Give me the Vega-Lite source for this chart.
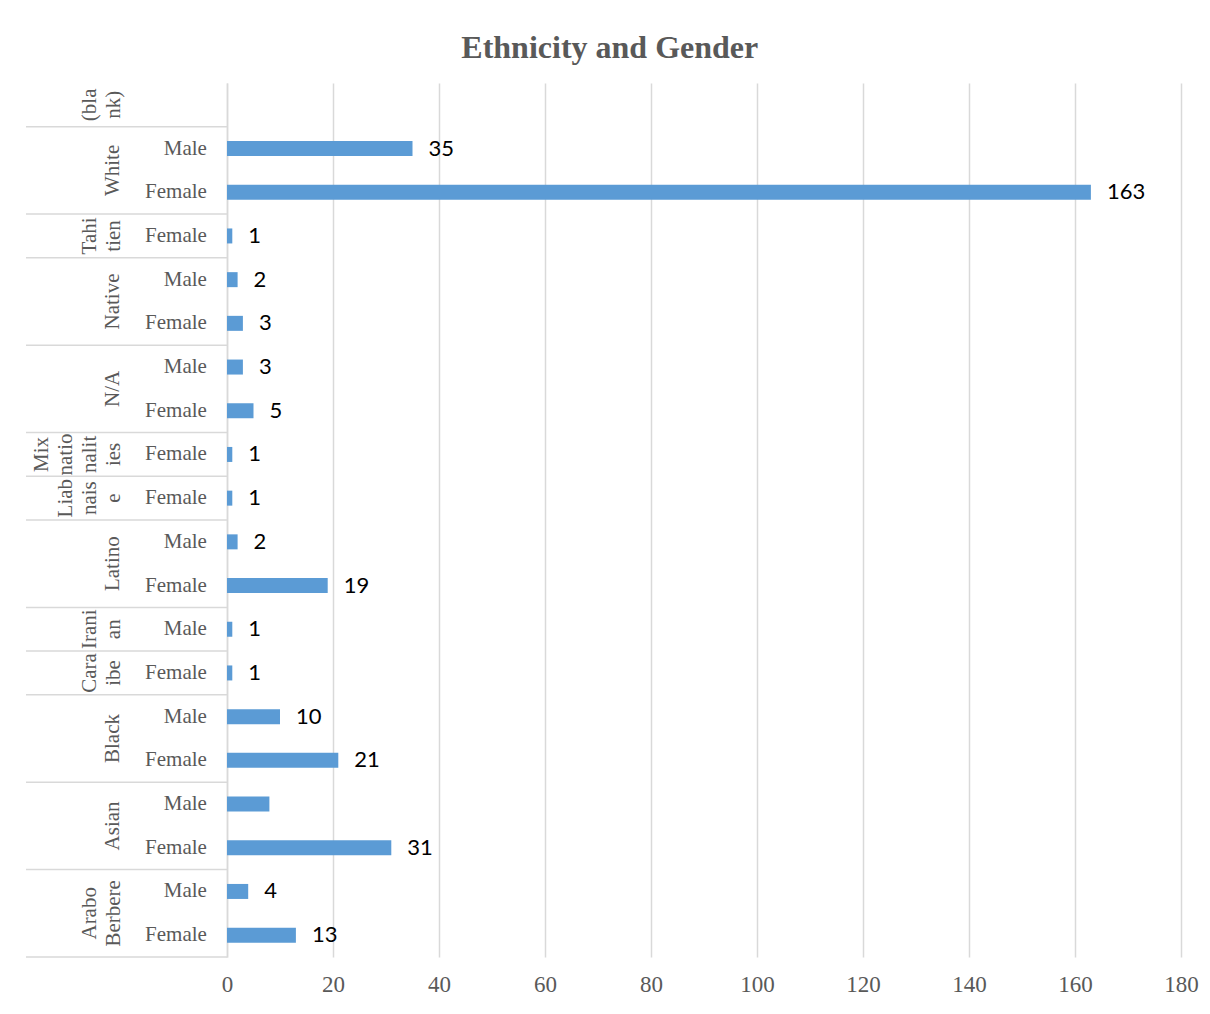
{
  "$schema": "https://vega.github.io/schema/vega-lite/v6.json",
  "background": "white",
  "padding": {"left": 25, "top": 32, "right": 30, "bottom": 20},
  "title": {"text": "Ethnicity and Gender", "font": "Liberation Serif", "fontSize": 32, "fontWeight": "bold", "color": "#595959", "anchor": "middle", "offset": 18, "dx": -2},
  "config": {"view": {"stroke": null}},
  "data": {"values": [
    {"group": "(blank)", "gender": "", "value": null, "label": null},
    {"group": "White", "gender": "Male", "value": 35, "label": 35},
    {"group": "White", "gender": "Female", "value": 163, "label": 163},
    {"group": "Tahitien", "gender": "Female", "value": 1, "label": 1},
    {"group": "Native", "gender": "Male", "value": 2, "label": 2},
    {"group": "Native", "gender": "Female", "value": 3, "label": 3},
    {"group": "N/A", "gender": "Male", "value": 3, "label": 3},
    {"group": "N/A", "gender": "Female", "value": 5, "label": 5},
    {"group": "Mixnationalities", "gender": "Female", "value": 1, "label": 1},
    {"group": "Liabnaise", "gender": "Female", "value": 1, "label": 1},
    {"group": "Latino", "gender": "Male", "value": 2, "label": 2},
    {"group": "Latino", "gender": "Female", "value": 19, "label": 19},
    {"group": "Iranian", "gender": "Male", "value": 1, "label": 1},
    {"group": "Caraibe", "gender": "Female", "value": 1, "label": 1},
    {"group": "Black", "gender": "Male", "value": 10, "label": 10},
    {"group": "Black", "gender": "Female", "value": 21, "label": 21},
    {"group": "Asian", "gender": "Male", "value": 8, "label": null},
    {"group": "Asian", "gender": "Female", "value": 31, "label": 31},
    {"group": "Arabo Berbere", "gender": "Male", "value": 4, "label": 4},
    {"group": "Arabo Berbere", "gender": "Female", "value": 13, "label": 13}
  ]},
  "transform": [
    {"window": [{"op": "row_number", "as": "ord"}]},
    {"joinaggregate": [{"op": "count", "as": "n"}], "groupby": ["group"]},
    {"window": [{"op": "row_number", "as": "rn"}], "groupby": ["group"], "sort": [{"field": "ord", "order": "ascending"}]},
    {"calculate": "datum.group + ' / ' + datum.gender", "as": "key"},
    {"calculate": "datum.group == '(blank)' ? '(bla|nk)' : datum.group == 'Tahitien' ? 'Tahi|tien' : datum.group == 'Mixnationalities' ? 'Mix|natio|nalit|ies' : datum.group == 'Liabnaise' ? 'Liab|nais|e' : datum.group == 'Iranian' ? 'Irani|an' : datum.group == 'Caraibe' ? 'Cara|ibe' : datum.group == 'Arabo Berbere' ? 'Arabo|Berbere' : datum.group", "as": "glabel"},
    {"calculate": "length(split(datum.glabel, '|'))", "as": "nl"}
  ],
  "spacing": 0,
  "bounds": "flush",
  "resolve": {"scale": {"y": "shared"}},
  "hconcat": [
    {
      "width": 201,
      "height": 874,
      "layer": [
        {
          "mark": {"type": "rule", "color": "#d9d9d9", "strokeWidth": 1.5},
          "encoding": {
            "y": {"field": "key", "type": "nominal", "bandPosition": 1, "sort": {"field": "ord", "op": "min"}, "scale": {"type": "band", "paddingInner": 0, "paddingOuter": 0}, "axis": null},
            "x": {"datum": 0, "type": "quantitative", "scale": {"domain": [0, 1], "nice": false, "zero": false}, "axis": null},
            "x2": {"datum": 1},
            "strokeOpacity": {"condition": {"test": "datum.rn == datum.n", "value": 1}, "value": 0}
          }
        },
        {
          "mark": {"type": "text", "align": "right", "baseline": "middle", "font": "Liberation Serif", "fontSize": 21, "color": "#595959"},
          "encoding": {
            "y": {"field": "key", "type": "nominal", "sort": {"field": "ord", "op": "min"}, "axis": null},
            "x": {"datum": 0.9, "type": "quantitative"},
            "text": {"field": "gender", "type": "nominal"}
          }
        },
        {
          "mark": {"type": "text", "angle": 270, "align": "center", "baseline": "bottom", "lineBreak": "|", "lineHeight": 24, "font": "Liberation Serif", "fontSize": 21, "color": "#595959"},
          "encoding": {
            "y": {"field": "key", "type": "nominal", "bandPosition": 1, "sort": {"field": "ord", "op": "min"}, "axis": null},
            "x": {"datum": 0.485, "type": "quantitative"},
            "text": {"condition": {"test": "datum.rn == 1 && datum.n == 2 && datum.nl == 1", "field": "glabel", "type": "nominal"}, "value": ""}
          }
        },
        {
          "mark": {"type": "text", "angle": 270, "align": "center", "baseline": "bottom", "lineBreak": "|", "lineHeight": 24, "font": "Liberation Serif", "fontSize": 21, "color": "#595959"},
          "encoding": {
            "y": {"field": "key", "type": "nominal", "bandPosition": 1, "sort": {"field": "ord", "op": "min"}, "axis": null},
            "x": {"datum": 0.366, "type": "quantitative"},
            "text": {"condition": {"test": "datum.rn == 1 && datum.n == 2 && datum.nl == 2", "field": "glabel", "type": "nominal"}, "value": ""}
          }
        },
        {
          "mark": {"type": "text", "angle": 270, "align": "center", "baseline": "bottom", "lineBreak": "|", "lineHeight": 24, "font": "Liberation Serif", "fontSize": 21, "color": "#595959"},
          "encoding": {
            "y": {"field": "key", "type": "nominal", "sort": {"field": "ord", "op": "min"}, "axis": null},
            "x": {"datum": 0.366, "type": "quantitative"},
            "text": {"condition": {"test": "datum.n == 1 && datum.nl == 2", "field": "glabel", "type": "nominal"}, "value": ""}
          }
        },
        {
          "mark": {"type": "text", "angle": 270, "align": "center", "baseline": "bottom", "lineBreak": "|", "lineHeight": 24, "font": "Liberation Serif", "fontSize": 21, "color": "#595959"},
          "encoding": {
            "y": {"field": "key", "type": "nominal", "sort": {"field": "ord", "op": "min"}, "axis": null},
            "x": {"datum": 0.247, "type": "quantitative"},
            "text": {"condition": {"test": "datum.n == 1 && datum.nl == 3", "field": "glabel", "type": "nominal"}, "value": ""}
          }
        },
        {
          "mark": {"type": "text", "angle": 270, "align": "center", "baseline": "bottom", "lineBreak": "|", "lineHeight": 24, "font": "Liberation Serif", "fontSize": 21, "color": "#595959"},
          "encoding": {
            "y": {"field": "key", "type": "nominal", "sort": {"field": "ord", "op": "min"}, "axis": null},
            "x": {"datum": 0.128, "type": "quantitative"},
            "text": {"condition": {"test": "datum.n == 1 && datum.nl == 4", "field": "glabel", "type": "nominal"}, "value": ""}
          }
        }
      ]
    },
    {
      "width": 954,
      "height": 874,
      "layer": [
        {
          "mark": {"type": "bar", "color": "#5b9bd5", "size": 15},
          "encoding": {
            "y": {"field": "key", "type": "nominal", "sort": {"field": "ord", "op": "min"}, "scale": {"type": "band", "paddingInner": 0, "paddingOuter": 0}, "axis": {"labels": false, "ticks": false, "domain": true, "domainColor": "#d9d9d9", "domainWidth": 1.5, "title": null, "grid": false}},
            "x": {"field": "value", "type": "quantitative", "scale": {"domain": [0, 180], "nice": false}, "axis": {"values": [0, 20, 40, 60, 80, 100, 120, 140, 160, 180], "grid": true, "gridColor": "#d9d9d9", "gridWidth": 1.5, "domain": false, "ticks": false, "labelFlush": false, "labelFont": "Liberation Serif", "labelFontSize": 23, "labelColor": "#595959", "labelPadding": 16, "title": null}}
          }
        },
        {
          "transform": [{"filter": "isValid(datum.label)"}],
          "mark": {"type": "text", "align": "left", "baseline": "middle", "dx": 16, "font": "Lato", "fontSize": 22, "color": "#000000"},
          "encoding": {
            "y": {"field": "key", "type": "nominal", "sort": {"field": "ord", "op": "min"}},
            "x": {"field": "value", "type": "quantitative"},
            "text": {"field": "label", "type": "nominal"}
          }
        }
      ]
    }
  ]
}
